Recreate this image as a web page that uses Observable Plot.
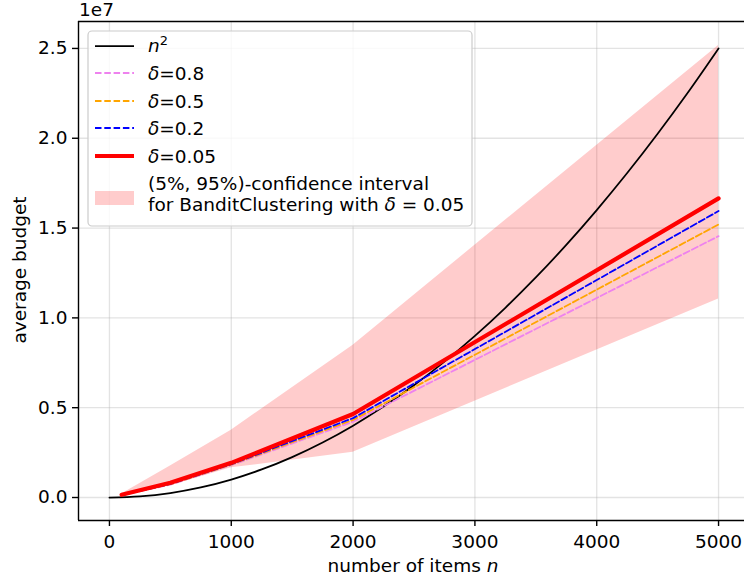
<!DOCTYPE html>
<html>
<head>
<meta charset="utf-8">
<script src="https://cdn.jsdelivr.net/npm/d3@7"></script>
<script src="https://cdn.jsdelivr.net/npm/@observablehq/plot@0.6"></script>
<style>
  html, body { margin: 0; padding: 0; background: white; }
  #chart { width: 744px; height: 580px; }
</style>
</head>
<body>
<div id="chart"></div>
<script>
// ---- data ----
const nValues = [100, 500, 1000, 2000, 5000];
const delta005 = [1.5e5, 8.2e5, 1.93e6, 4.65e6, 1.665e7];
const delta02  = [1.4e5, 7.6e5, 1.86e6, 4.42e6, 1.595e7];
const delta05  = [1.4e5, 7.4e5, 1.83e6, 4.32e6, 1.52e7];
const delta08  = [1.3e5, 7.2e5, 1.80e6, 4.22e6, 1.455e7];
const ciLow    = [1.0e5, 6.6e5, 1.65e6, 2.52e6, 1.105e7];
const ciHigh   = [2.0e5, 1.75e6, 3.75e6, 8.48e6, 2.517e7];

const sqN      = [0, 250, 500, 750, 1000, 1250, 1500, 1750, 2000, 2250, 2500, 2750, 3000, 3250, 3500, 3750, 4000, 4250, 4500, 4750, 5000];
const sqValues = [0, 62500, 250000, 562500, 1000000, 1562500, 2250000, 3062500, 4000000, 5062500, 6250000, 7562500, 9000000, 10562500, 12250000, 14062500, 16000000, 18062500, 20250000, 22562500, 25000000];

const xTicks = [0, 1000, 2000, 3000, 4000, 5000];
const xTickLabels = ["0", "1000", "2000", "3000", "4000", "5000"];
const yTicks = [0, 5e6, 1e7, 1.5e7, 2e7, 2.5e7];
const yTickLabels = ["0.0", "0.5", "1.0", "1.5", "2.0", "2.5"];
const xDomain = [-254, 5213];
const yDomain = [-1.28e6, 2.65e7];

const seriesNames = ["δ=0.8", "δ=0.5", "δ=0.2", "δ=0.05"];
const seriesColors = ["#ee82ee", "#ffa500", "#0000ff", "#ff0000"];
const seriesValues = [delta08, delta05, delta02, delta005];

// ---- build tables ----
const band = nValues.map((n, i) => ({n, lo: ciLow[i], hi: ciHigh[i]}));
const sq = sqN.map((n, i) => ({n, v: sqValues[i]}));
const series = seriesValues.map((vals, k) => nValues.map((n, i) => ({n, v: vals[i]})));

const FONT = "DejaVu Sans";
const FS = 18.5;

const lineMarks = series.map((d, k) => Plot.line(d, {
  x: "n", y: "v",
  stroke: seriesColors[k],
  strokeWidth: k === 3 ? 4.2 : 1.8,
  strokeDasharray: k === 3 ? null : "6.5,2.8"
}));

const chart = Plot.plot({
  width: 744,
  height: 580,
  marginLeft: 78,
  marginRight: 0,
  marginTop: 21,
  marginBottom: 60,
  style: {fontFamily: FONT, fontSize: FS + "px", color: "black", background: "white", overflow: "visible"},
  x: {domain: xDomain},
  y: {domain: yDomain},
  marks: [
    Plot.gridX(xTicks, {stroke: "#b0b0b0", strokeOpacity: 0.35, strokeWidth: 1.3}),
    Plot.gridY(yTicks, {stroke: "#b0b0b0", strokeOpacity: 0.35, strokeWidth: 1.3}),
    Plot.areaY(band, {x: "n", y1: "lo", y2: "hi", fill: "#ff0000", fillOpacity: 0.2}),
    Plot.line(sq, {x: "n", y: "v", stroke: "black", strokeWidth: 1.75, curve: "catmull-rom"}),
    ...lineMarks,
    Plot.axisX(xTicks, {tickSize: 6, tickPadding: 8, strokeWidth: 1.4, label: null, fontSize: FS,
      tickFormat: (d) => xTickLabels[xTicks.indexOf(d)]}),
    Plot.axisY(yTicks, {tickSize: 6, tickPadding: 5, strokeWidth: 1.4, label: null, fontSize: FS,
      tickFormat: (d) => yTickLabels[yTicks.indexOf(d)]}),
    Plot.ruleX([xDomain[0]], {stroke: "black", strokeWidth: 1.4}),
    Plot.ruleY([yDomain[0]], {stroke: "black", strokeWidth: 1.4}),
    Plot.ruleY([yDomain[1]], {stroke: "black", strokeWidth: 1.4})
  ]
});

document.getElementById("chart").appendChild(chart);

// ---- annotations: offset text, axis labels, legend ----
const svg = d3.select(chart);
svg.append("text").attr("x", 79).attr("y", 16).attr("text-anchor", "start")
  .attr("font-size", FS).attr("fill", "black").text("1e7");

const xl = svg.append("text").attr("x", 413).attr("y", 572).attr("text-anchor", "middle")
  .attr("font-size", FS).attr("fill", "black");
xl.append("tspan").text("number of items ");
xl.append("tspan").attr("font-style", "italic").text("n");

svg.append("text").attr("transform", "translate(26,270) rotate(-90)")
  .attr("text-anchor", "middle").attr("font-size", FS).attr("fill", "black").text("average budget");

const lg = svg.append("g").attr("text-anchor", "start");
lg.append("rect").attr("x", 88).attr("y", 31).attr("width", 384).attr("height", 195)
  .attr("rx", 4).attr("fill", "white").attr("fill-opacity", 0.8)
  .attr("stroke", "#cccccc").attr("stroke-width", 1.2);

const hx0 = 95, hx1 = 134, tx = 148;
// n^2 row
lg.append("line").attr("x1", hx0).attr("x2", hx1).attr("y1", 46).attr("y2", 46)
  .attr("stroke", "black").attr("stroke-width", 1.75);
const t0 = lg.append("text").attr("x", tx).attr("y", 52).attr("font-size", FS).attr("fill", "black");
t0.append("tspan").attr("font-style", "italic").text("n");
t0.append("tspan").attr("font-size", FS * 0.7).attr("dy", -7).text("2");

const rowY = [73, 101, 128, 156];
seriesNames.forEach((name, k) => {
  lg.append("line").attr("x1", hx0).attr("x2", hx1).attr("y1", rowY[k]).attr("y2", rowY[k])
    .attr("stroke", seriesColors[k]).attr("stroke-width", k === 3 ? 4.2 : 1.8)
    .attr("stroke-dasharray", k === 3 ? null : "6.5,2.8");
  const t = lg.append("text").attr("x", tx).attr("y", rowY[k] + 6.5).attr("font-size", FS).attr("fill", "black");
  t.append("tspan").attr("font-style", "italic").text(name.slice(0, 1));
  t.append("tspan").text(name.slice(1));
});

lg.append("rect").attr("x", hx0).attr("y", 191).attr("width", hx1 - hx0).attr("height", 14)
  .attr("fill", "#ff0000").attr("fill-opacity", 0.2);
lg.append("text").attr("x", tx).attr("y", 190).attr("font-size", FS).attr("fill", "black")
  .text("(5%, 95%)-confidence interval");
const t5 = lg.append("text").attr("x", tx).attr("y", 211).attr("font-size", FS).attr("fill", "black");
t5.append("tspan").text("for BanditClustering with ");
t5.append("tspan").attr("font-style", "italic").text("δ");
t5.append("tspan").text(" = 0.05");
</script>
</body>
</html>
